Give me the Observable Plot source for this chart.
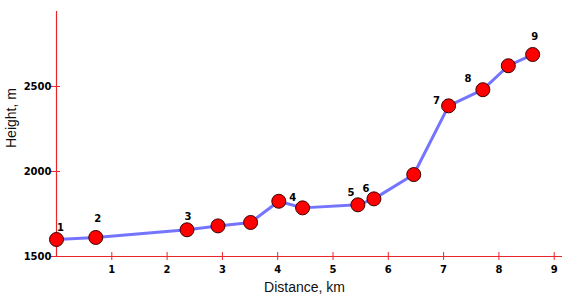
<!DOCTYPE html>
<html>
<head>
<meta charset="utf-8">
<script src="https://cdn.jsdelivr.net/npm/d3@7"></script>
<script src="https://cdn.jsdelivr.net/npm/@observablehq/plot@0.6"></script>
<style>
  html, body { margin: 0; padding: 0; background: #fff; }
  #chart svg { display: block; }
</style>
</head>
<body>
<div id="chart"></div>
<script>
// Data
const distanceKm = [0, 0.71, 2.36, 2.92, 3.51, 4.02, 4.45, 5.45, 5.74, 6.46, 7.09, 7.71, 8.17, 8.61];
const heightM    = [1600, 1612, 1657, 1680, 1700, 1825, 1786, 1804, 1839, 1982, 2386, 2481, 2622, 2688];
const pointLabels = ["1", "2", "3", "", "", "4", "", "5", "6", "", "7", "8", "", "9"];
const xTicks = [1, 2, 3, 4, 5, 6, 7, 8, 9];
const yTicks = [1500, 2000, 2500];
const xTitle = "Distance, km";
const yTitle = "Height, m";

const points = distanceKm.map((d, i) => ({distance: d, height: heightM[i], label: pointLabels[i]}));

// label placement (style, not data)
const labelOffsets = {
  "1": [4, -12], "2": [2, -19], "3": [1, -13], "4": [14, -3], "5": [-7, -12],
  "6": [-8, -10], "7": [-12, -5], "8": [-15, -11], "9": [2, -18]
};

const axisColor = "#e8262a";
const tickFont = "DejaVu Sans, Verdana, sans-serif";

const labelMarks = points.filter(p => p.label).map(p =>
  Plot.text([p], {
    x: "distance", y: "height", text: "label",
    dx: labelOffsets[p.label][0], dy: labelOffsets[p.label][1],
    fontFamily: tickFont, fontWeight: "bold", fontSize: 10, fill: "#000"
  })
);

const chart = Plot.plot({
  width: 568,
  height: 301,
  marginLeft: 56,
  marginRight: 6,
  marginTop: 11,
  marginBottom: 45,
  style: {background: "#fff"},
  x: {domain: [0, 9.15], axis: null},
  y: {domain: [1500, 2941], axis: null},
  marks: [
    // axis lines
    Plot.ruleY([1500], {stroke: axisColor, strokeWidth: 1.2}),
    Plot.ruleX([0], {stroke: axisColor, strokeWidth: 1.2}),
    // ticks crossing axes
    Plot.ruleX(xTicks, {x: d => d, y1: 1500, y2: 1500, insetTop: 4, insetBottom: 4, stroke: axisColor}),
    Plot.ruleY(yTicks, {y: d => d, x1: 0, x2: 0, insetLeft: 4, insetRight: 5, stroke: axisColor}),
    // tick labels
    Plot.text(xTicks, {x: d => d, y: 1500, text: d => String(d), dy: 13,
      fontFamily: tickFont, fontWeight: "bold", fontSize: 10, fill: "#000"}),
    Plot.text(yTicks, {x: 0, y: d => d, text: d => String(d), dx: -5, textAnchor: "end",
      fontFamily: tickFont, fontWeight: "bold", fontSize: 10, fill: "#000"}),
    // axis titles
    Plot.text([xTitle], {frameAnchor: "bottom", lineAnchor: "middle", dx: -5, dy: 31,
      fontFamily: "Liberation Sans, Arial, sans-serif", fontSize: 14, fill: "#111"}),
    Plot.text([yTitle], {frameAnchor: "left", lineAnchor: "middle", rotate: -90, dx: -45, dy: 14,
      fontFamily: "Liberation Sans, Arial, sans-serif", fontSize: 14, fill: "#111"}),
    // profile line
    Plot.line(points, {x: "distance", y: "height", stroke: "#5c5cff", strokeOpacity: 0.85, strokeWidth: 3}),
    // points
    Plot.dot(points, {x: "distance", y: "height", r: 7, fill: "#ff0000", stroke: "#3a0000", strokeWidth: 1}),
    ...labelMarks
  ]
});

document.getElementById("chart").appendChild(chart);
</script>
</body>
</html>
